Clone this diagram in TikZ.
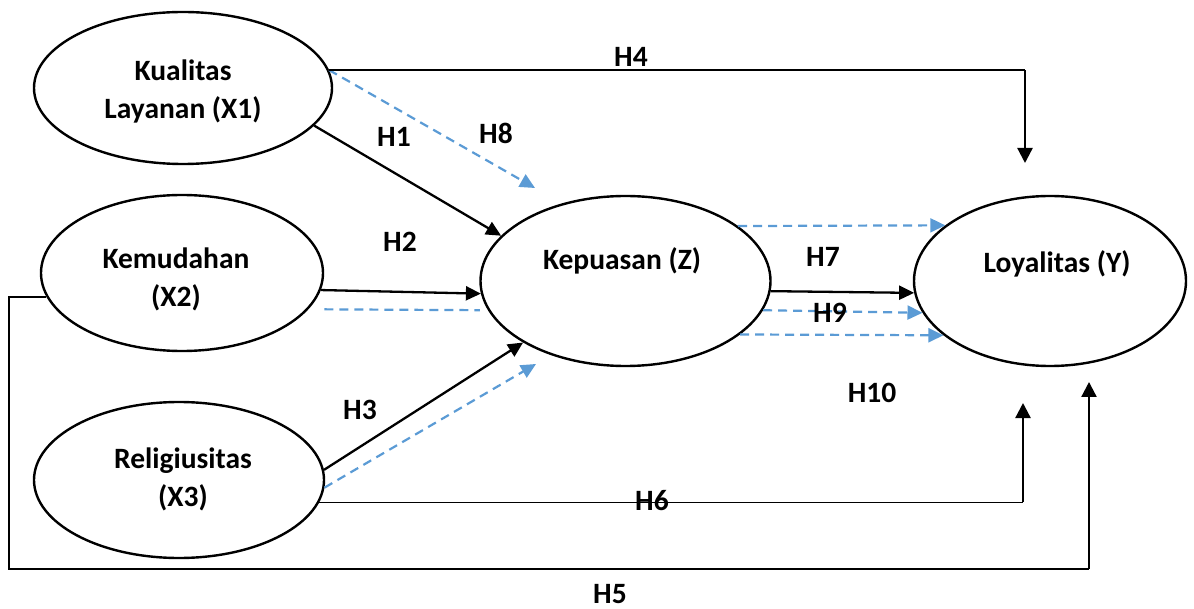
\documentclass[tikz,border=0pt]{standalone}
\usepackage{fontspec}
\setmainfont{Carlito}
\usetikzlibrary{shapes.geometric,arrows.meta}
\definecolor{dblue}{HTML}{5B9BD5}
\begin{document}
\begin{tikzpicture}[x=1pt,y=-1pt,
  var/.style={draw,ellipse,line width=2.4pt,inner sep=0pt},
  txt/.style={font=\fontsize{29.5}{38}\selectfont\bfseries,align=center,inner sep=0pt},
  hyp/.style={font=\fontsize{29.5}{32}\selectfont\bfseries,inner sep=0pt},
  solidarr/.style={line width=2.3pt,-{Triangle[length=15pt,width=14pt]}},
  dashline/.style={line width=2.2pt,draw=dblue,dash pattern=on 9pt off 6pt},
  dasharr/.style={dashline,-{Triangle[length=15pt,width=14pt]}},
  vertarr/.style={line width=2.3pt,-{Triangle[length=15pt,width=15pt]}},
  thinline/.style={line width=1.4pt},
]
\useasboundingbox (0,0) rectangle (1194,609);

% latent variables
\node[var,minimum width=298pt,minimum height=152pt] (x1) at (183,88) {};
\node[var,minimum width=282pt,minimum height=156pt] (x2) at (182,273) {};
\node[var,minimum width=290pt,minimum height=156pt] (x3) at (179,480) {};
\node[var,minimum width=290pt,minimum height=170pt] (z) at (625.5,281) {};
\node[var,minimum width=272pt,minimum height=170pt] (y) at (1050,281) {};

\node[txt] (tx1) at (183,91) {Kualitas\\Layanan (X1)};
\node[txt] (tx2) at (176,279) {Kemudahan\\(X2)};
\node[txt] (tx3) at (183,479) {Religiusitas\\(X3)};
\node[txt] (tz) at (622,261) {Kepuasan (Z)};
\node[txt] (ty) at (1057,264) {Loyalitas (Y)};

% free ends
\coordinate (h8end) at (535,188);
\coordinate (h3end) at (536,364);
\coordinate (h4end) at (1025,163);
\coordinate (h6end) at (1023,403);
\coordinate (h5end) at (1089,382);
\coordinate (c5) at (9,569);

% X -> Z
\draw[dasharr] (x1.7.6) -- (h8end);
\draw[solidarr] (x1.-16.8) -- (z.160.9);
\draw[solidarr] (x2.-7.9) -- (z.-175.6);
\draw[dashline,shorten <=16pt,shorten >=8pt] (x2.-16.1) -- (z.-168.4);
\draw[solidarr] (x3.4.8) -- (z.-149.2);
\draw[dasharr] (x3.-3.1) -- (h3end);

% Z -> Y
\draw[dasharr] (z.26.5) -- (y.152.1);
\draw[solidarr] (z.-4.4) -- (y.-175.3);
\draw[dasharr] (z.-12.9) -- (y.-166.2);
\draw[dasharr] (z.-25.05) -- (y.-153.5);

% X -> Y direct
\draw[thinline] (x1.7.6) -- (x1.7.6 -| h4end);
\draw[vertarr] (x1.7.6 -| h4end) -- (h4end);
\draw[thinline] (x3.-9.9) -- (x3.-9.9 -| h6end);
\draw[vertarr] (x3.-9.9 -| h6end) -- (h6end);
\draw[thinline] (x2.190) -| (c5) -- (c5 -| h5end);
\draw[vertarr] (c5 -| h5end) -- (h5end);

% hypothesis labels
\node[hyp] (l1) at (394,137) {H1};
\node[hyp] (l8) at (496,133) {H8};
\node[hyp] (l2) at (400,242) {H2};
\node[hyp] (l3) at (360,410) {H3};
\node[hyp] (l4) at (631,57) {H4};
\node[hyp] (l5) at (610,594) {H5};
\node[hyp] (l6) at (652,501) {H6};
\node[hyp] (l7) at (823,257) {H7};
\node[hyp] (l9) at (830,313) {H9};
\node[hyp] (l10) at (872,393) {H10};
\end{tikzpicture}
\end{document}
